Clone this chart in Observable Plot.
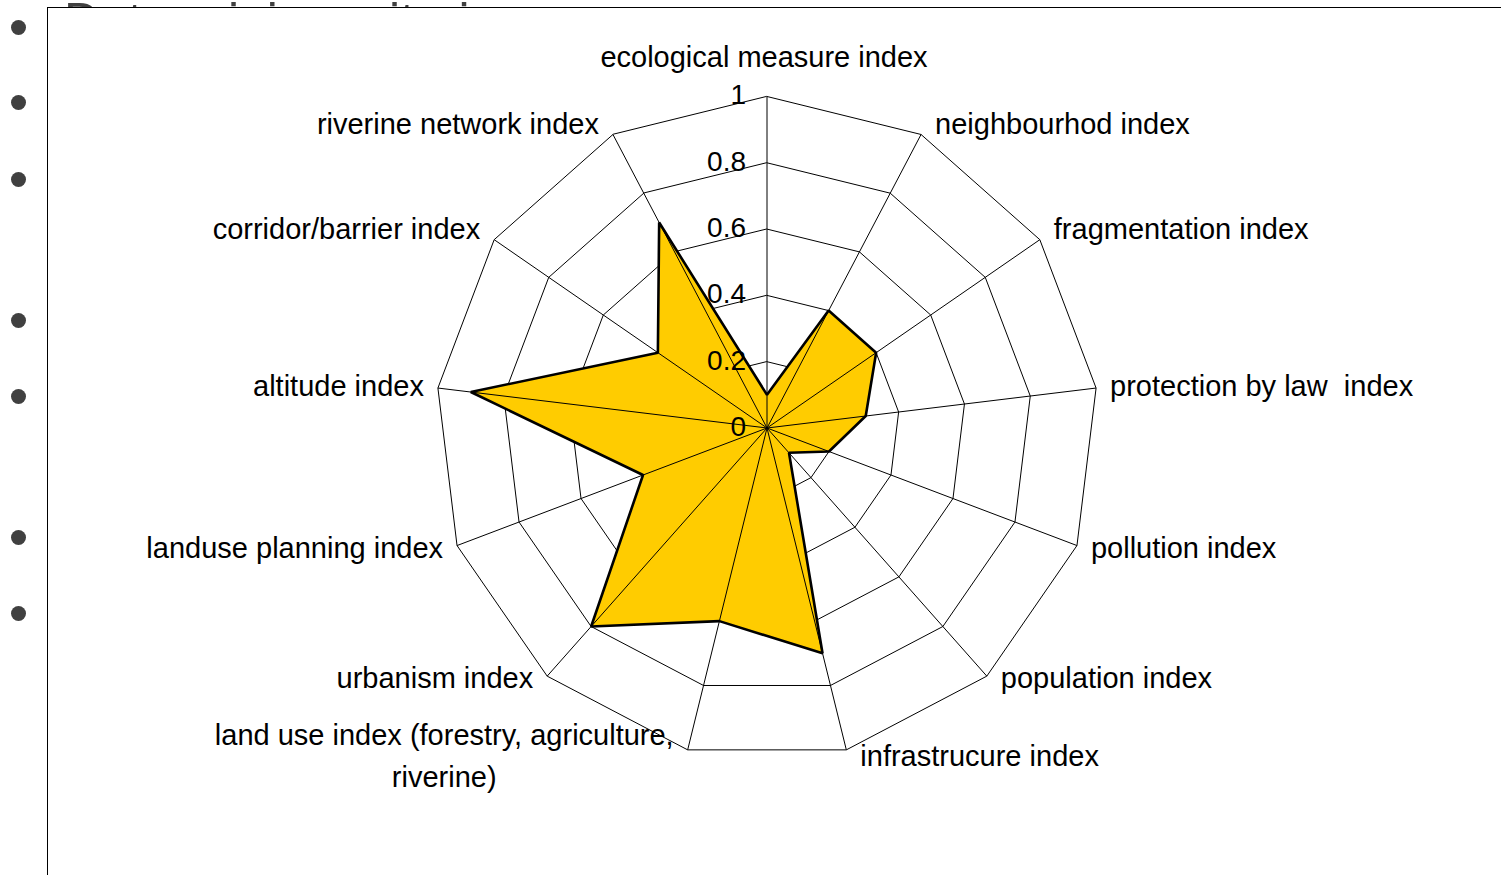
<!DOCTYPE html>
<html>
<head>
<meta charset="utf-8">
<script src="https://cdn.jsdelivr.net/npm/d3@7"></script>
<script src="https://cdn.jsdelivr.net/npm/@observablehq/plot@0.6"></script>
<style>
  html, body { margin: 0; padding: 0; background: #fff; width: 1501px; height: 875px; overflow: hidden; position: relative; font-family: "Liberation Sans", Arial, sans-serif; }
  #title { position: absolute; left: 64px; top: -4.5px; font-size: 50px; line-height: 1; color: #404040; white-space: nowrap; }
  .bullet { position: absolute; left: 10.5px; width: 15px; height: 15px; border-radius: 50%; background: #404040; }
  #box { position: absolute; left: 47px; top: 7px; width: 1452.5px; height: 866.5px; border-left: 1.5px solid #000; border-top: 1.5px solid #000; background: #fff; }
  #box svg { display: block; }
</style>
</head>
<body>
<div id="title">Determining criteria</div>
<div id="bullets"></div>
<div id="box"></div>
<script>
// ---- data ----
const categories = [
  "ecological measure index",
  "neighbourhod index",
  "fragmentation index",
  "protection by law  index",
  "pollution index",
  "population index",
  "infrastrucure index",
  "land use index (forestry, agriculture,\nriverine)",
  "urbanism index",
  "landuse planning index",
  "altitude index",
  "corridor/barrier index",
  "riverine network index"
];
const values = [0.1, 0.4, 0.4, 0.3, 0.2, 0.1, 0.7, 0.6, 0.8, 0.4, 0.9, 0.4, 0.7];
const ringLevels = [0.2, 0.4, 0.6, 0.8, 1];
const tickValues = [0, 0.2, 0.4, 0.6, 0.8, 1];
const tickLabels = ["0", "0.2", "0.4", "0.6", "0.8", "1"];
const bulletTops = [27, 102, 179, 320, 396, 537, 613];

// ---- bullets (slide decoration) ----
const bl = document.getElementById("bullets");
bulletTops.forEach(y => {
  const d = document.createElement("div");
  d.className = "bullet";
  d.style.top = (y - 7.5) + "px";
  bl.appendChild(d);
});

// ---- geometry ----
const W = 1452.5, H = 866.5;
const cx = 767 - 48.5, cy = 428 - 8.5, R = 331.5;
const FONT = 29;
const N = categories.length;
const ang = i => 2 * Math.PI * i / N;
const px = (r, i) => r * Math.sin(ang(i));
const py = (r, i) => r * Math.cos(ang(i));

const ringData = ringLevels.flatMap(r => categories.map((c, i) => ({r, x: px(r, i), y: py(r, i)})));
const spokes = categories.map((c, i) => ({x1: 0, y1: 0, x2: px(1, i), y2: py(1, i)}));
const poly = categories.map((c, i) => ({x: px(values[i], i), y: py(values[i], i)}));
const ticks = tickValues.map((v, k) => ({v, label: tickLabels[k]}));

// label positions from measured text widths
const ctx = document.createElement("canvas").getContext("2d");
ctx.font = `${FONT}px "Liberation Sans"`;
const labels = categories.map((c, i) => {
  const s = Math.sin(ang(i)), co = Math.cos(ang(i));
  const w = d3.max(c.split("\n"), l => ctx.measureText(l).width);
  let offX, offY;
  if (Math.abs(s) < 0.1) { offX = -3; offY = co > 0 ? -43 : 40; }
  else {
    offX = Math.sign(s) * (14 + w / 2);
    offY = (co > 0.3 ? -11 : co > 0 ? -2 : co > -0.9 ? 2 : 6) - 3;
  }
  return {text: c, x: px(1, i) + offX / R, y: py(1, i) - offY / R};
});

const chart = Plot.plot({
  width: W,
  height: H,
  margin: 0,
  x: {domain: [-1, 1], range: [cx - R, cx + R], axis: null},
  y: {domain: [-1, 1], range: [cy + R, cy - R], axis: null},
  style: {fontFamily: '"Liberation Sans", Arial, sans-serif', fontSize: FONT + "px", background: "transparent", overflow: "visible"},
  marks: [
    Plot.line(ringData, {x: "x", y: "y", z: "r", curve: "linear-closed", stroke: "#000", strokeWidth: 1}),
    Plot.line(poly, {x: "x", y: "y", curve: "linear-closed", fill: "#FFCC00", stroke: "none"}),
    Plot.link(spokes, {x1: "x1", y1: "y1", x2: "x2", y2: "y2", stroke: "#000", strokeWidth: 1}),
    Plot.line(poly, {x: "x", y: "y", curve: "linear-closed", stroke: "#000", strokeWidth: 2.6, strokeLinejoin: "miter"}),
    Plot.text(ticks, {x: () => 0, y: "v", text: "label", textAnchor: "end", dx: -21, dy: -1, fill: "#000", fontSize: FONT - 1}),
    Plot.text(labels, {x: "x", y: "y", text: "text", textAnchor: "middle", lineHeight: 1.42, fill: "#000", fontSize: FONT})
  ]
});
document.getElementById("box").appendChild(chart);
</script>
</body>
</html>
